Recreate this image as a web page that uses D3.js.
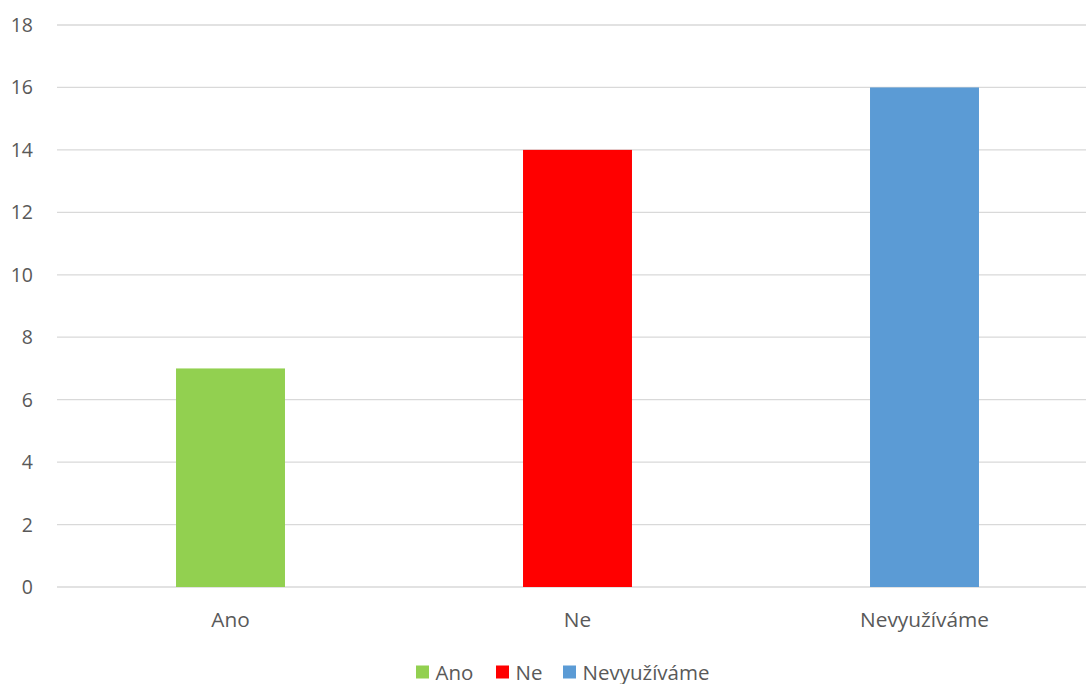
<!DOCTYPE html>
<html><head><meta charset="utf-8">
<script src="https://cdn.jsdelivr.net/npm/d3@7"></script>
<style>body{margin:0;background:#fff;overflow:hidden}text{font-family:"Open Sans","Noto Sans",sans-serif;fill:#595959}</style>
</head><body><svg id="c" width="1086" height="684"></svg>
<script>
const categories = ["Ano", "Ne", "Nevyužíváme"];
const values = [7, 14, 16];
const colors = ["#92D050", "#FF0000", "#5B9BD5"];
const yTicks = [0, 2, 4, 6, 8, 10, 12, 14, 16, 18];

const svg = d3.select("#c");
const x = d3.scaleBand().domain(categories).range([57, 1098]).paddingInner(0.686).paddingOuter(0.343);
const y = d3.scaleLinear().domain([0, 18]).range([587, 25]);

const grid = svg.append("g");
grid.selectAll("line").data(yTicks).join("line")
  .attr("x1", 57).attr("x2", 1098)
  .attr("y1", d => y(d)).attr("y2", d => y(d))
  .attr("stroke", "#d9d9d9").attr("stroke-width", 1.3);

svg.append("g").selectAll("text").data(yTicks).join("text")
  .attr("x", 33).attr("y", d => y(d) + 7)
  .attr("text-anchor", "end").attr("font-size", 19.5).text(d => d);

svg.append("g").selectAll("rect").data(values).join("rect")
  .attr("x", (d, i) => x(categories[i])).attr("width", x.bandwidth())
  .attr("y", d => y(d)).attr("height", d => y(0) - y(d))
  .attr("fill", (d, i) => colors[i]);

svg.append("g").selectAll("text").data(categories).join("text")
  .attr("x", d => x(d) + x.bandwidth() / 2).attr("y", 626.5)
  .attr("text-anchor", "middle").attr("font-size", 20.8).text(d => d);

const legX = [416, 496, 563];
const leg = svg.append("g");
categories.forEach((c, i) => {
  leg.append("rect").attr("x", legX[i]).attr("y", 665.5).attr("width", 13).attr("height", 13).attr("fill", colors[i]);
  leg.append("text").attr("x", legX[i] + 19.5).attr("y", 679.5).attr("font-size", 20.5).text(c);
});
</script></body></html>
